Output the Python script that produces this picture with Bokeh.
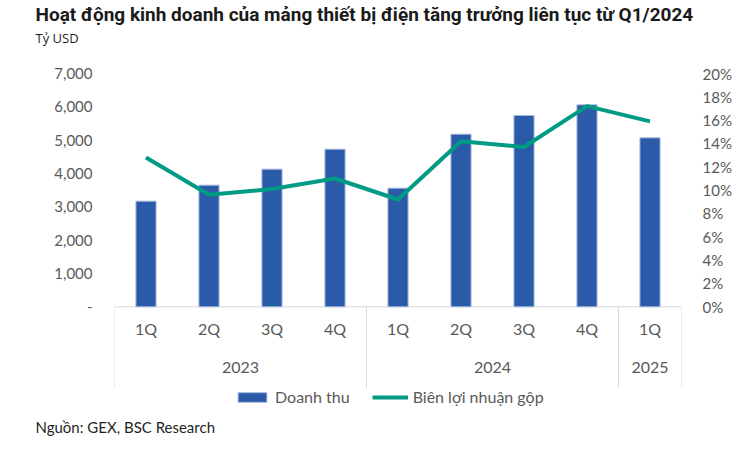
from bokeh.plotting import figure
from bokeh.models import (FactorRange, Range1d, LinearAxis, FixedTicker, NumeralTickFormatter,
                          PrintfTickFormatter, Title, Legend, LegendItem, ColumnDataSource)
from bokeh.core.properties import value
from bokeh.embed import file_html
from bokeh.resources import INLINE

# ---- data ----
years = ["2023", "2023", "2023", "2023", "2024", "2024", "2024", "2024", "2025"]
quarters = ["1Q", "2Q", "3Q", "4Q", "1Q", "2Q", "3Q", "4Q", "1Q"]
revenue = [3170, 3650, 4130, 4730, 3560, 5180, 5740, 6060, 5070]
gross_margin = [12.8, 9.6, 10.1, 11.0, 9.2, 14.2, 13.7, 17.2, 15.9]
rev_ticks = [0, 1000, 2000, 3000, 4000, 5000, 6000, 7000]
pct_ticks = [0, 2, 4, 6, 8, 10, 12, 14, 16, 18, 20]

title_text = "Hoạt động kinh doanh của mảng thiết bị điện tăng trưởng liên tục từ Q1/2024"
unit_text = "Tỷ USD"
source_text = "Nguồn: GEX, BSC Research"
legend_labels = ["Doanh thu", "Biên lợi nhuận gộp"]

# ---- styles ----
BAR = "#2B5BA8"
LINE = "#009B84"
TICK = "#595959"
SEP = "#D9D9D9"
FONT = "Lato"

W, H = 745, 450
LEFT, TOP = 114, 72
FRAME_R, FRAME_B = 681, 412
px_zero = 234                      # pixels from frame top to value 0
rev_top = 7000
pct_top = 20
u_rev = rev_top / px_zero
u_pct = pct_top / px_zero
below_px = (FRAME_B - TOP) - px_zero

factors = list(zip(years, quarters))
x_range = FactorRange(*factors, group_padding=0, factor_padding=0, range_padding=0)

p = figure(width=W, height=H, output_backend="svg", toolbar_location=None,
           x_range=x_range, y_range=Range1d(-below_px * u_rev, rev_top),
           x_axis_location=None, y_axis_location=None, title=None,
           min_border_left=LEFT, min_border_right=W - FRAME_R, min_border_top=TOP,
           min_border_bottom=H - FRAME_B)
p.outline_line_color = None
p.grid.visible = False
p.background_fill_color = "white"
p.border_fill_color = "white"
p.extra_y_ranges = {"pct": Range1d(-below_px * u_pct, pct_top)}

def style_axis(ax, standoff):
    ax.axis_line_color = None
    ax.major_tick_line_color = None
    ax.minor_tick_line_color = None
    ax.major_tick_out = 0
    ax.major_tick_in = 0
    ax.minor_tick_out = 0
    ax.minor_tick_in = 0
    ax.major_label_standoff = standoff
    ax.major_label_text_font = FONT
    ax.major_label_text_font_size = "15px"
    ax.major_label_text_color = TICK

ly = LinearAxis(ticker=FixedTicker(ticks=rev_ticks), formatter=NumeralTickFormatter(format="0,0"))
ly.major_label_overrides = {0: "-"}
style_axis(ly, 22)
p.add_layout(ly, "left")

ry = LinearAxis(y_range_name="pct", ticker=FixedTicker(ticks=pct_ticks),
                formatter=PrintfTickFormatter(format="%d%%"))
style_axis(ry, 21)
p.add_layout(ry, "right")

# group boundaries from data
n = len(factors)
bounds = [0]
for i in range(1, n):
    if years[i] != years[i - 1]:
        bounds.append(i)
bounds.append(n)
year_groups = []
for y in years:
    if y not in year_groups:
        year_groups.append(y)

p.segment(x0=[0], y0=[0], x1=[n], y1=[0], line_color=SEP, line_width=1)
sep_bottom = -81 * u_rev
p.segment(x0=bounds, y0=[0] * len(bounds), x1=bounds, y1=[sep_bottom] * len(bounds),
          line_color=SEP, line_width=1)

src = ColumnDataSource(dict(x=factors, rev=revenue, gm=gross_margin))
bars = p.vbar(x="x", top="rev", bottom=0, width=0.32, source=src, fill_color=BAR,
              line_color="#A9BCDD", line_width=1)
ln = p.line(x="x", y="gm", source=src, y_range_name="pct", line_color=LINE, line_width=4,
            line_join="round")

p.text(x=factors, y=[-22 * u_rev] * n, text=quarters, text_align="center", text_baseline="middle",
       text_font=value(FONT), text_font_size="16px", text_color=TICK)
p.text(x=year_groups, y=[-61 * u_rev] * len(year_groups), text=year_groups, text_align="center",
       text_baseline="middle", text_font=value(FONT), text_font_size="16px", text_color=TICK)

legend = Legend(items=[LegendItem(label=legend_labels[0], renderers=[bars]),
                       LegendItem(label=legend_labels[1], renderers=[ln])],
                location=(120, 6), orientation="horizontal", padding=0, margin=0,
                spacing=22, label_standoff=5, glyph_width=36, glyph_height=12,
                border_line_color=None, background_fill_alpha=0,
                label_text_font=FONT, label_text_font_size="16px", label_text_color=TICK)
p.add_layout(legend)

# titles outside the frame (first added = nearest the frame)
shift = 36 - (LEFT + 1)
p.add_layout(Title(text=" ", text_font_size="1px", standoff=22.5), "above")
p.add_layout(Title(text=unit_text, align="left", offset=shift, standoff=2,
                   text_font="Open Sans", text_font_size="13px", text_font_style="normal",
                   text_color="#1F1F1F"), "above")
p.add_layout(Title(text=title_text, align="left", offset=shift, standoff=0,
                   text_font="Roboto", text_font_size="19px", text_font_style="bold",
                   text_color="#1A1A1A"), "above")
p.add_layout(Title(text=source_text, align="left", offset=shift, standoff=6,
                   text_font=FONT, text_font_size="15px", text_font_style="normal",
                   text_color="#1F1F1F"), "below")

open("out.html", "w").write(file_html(p, INLINE))
